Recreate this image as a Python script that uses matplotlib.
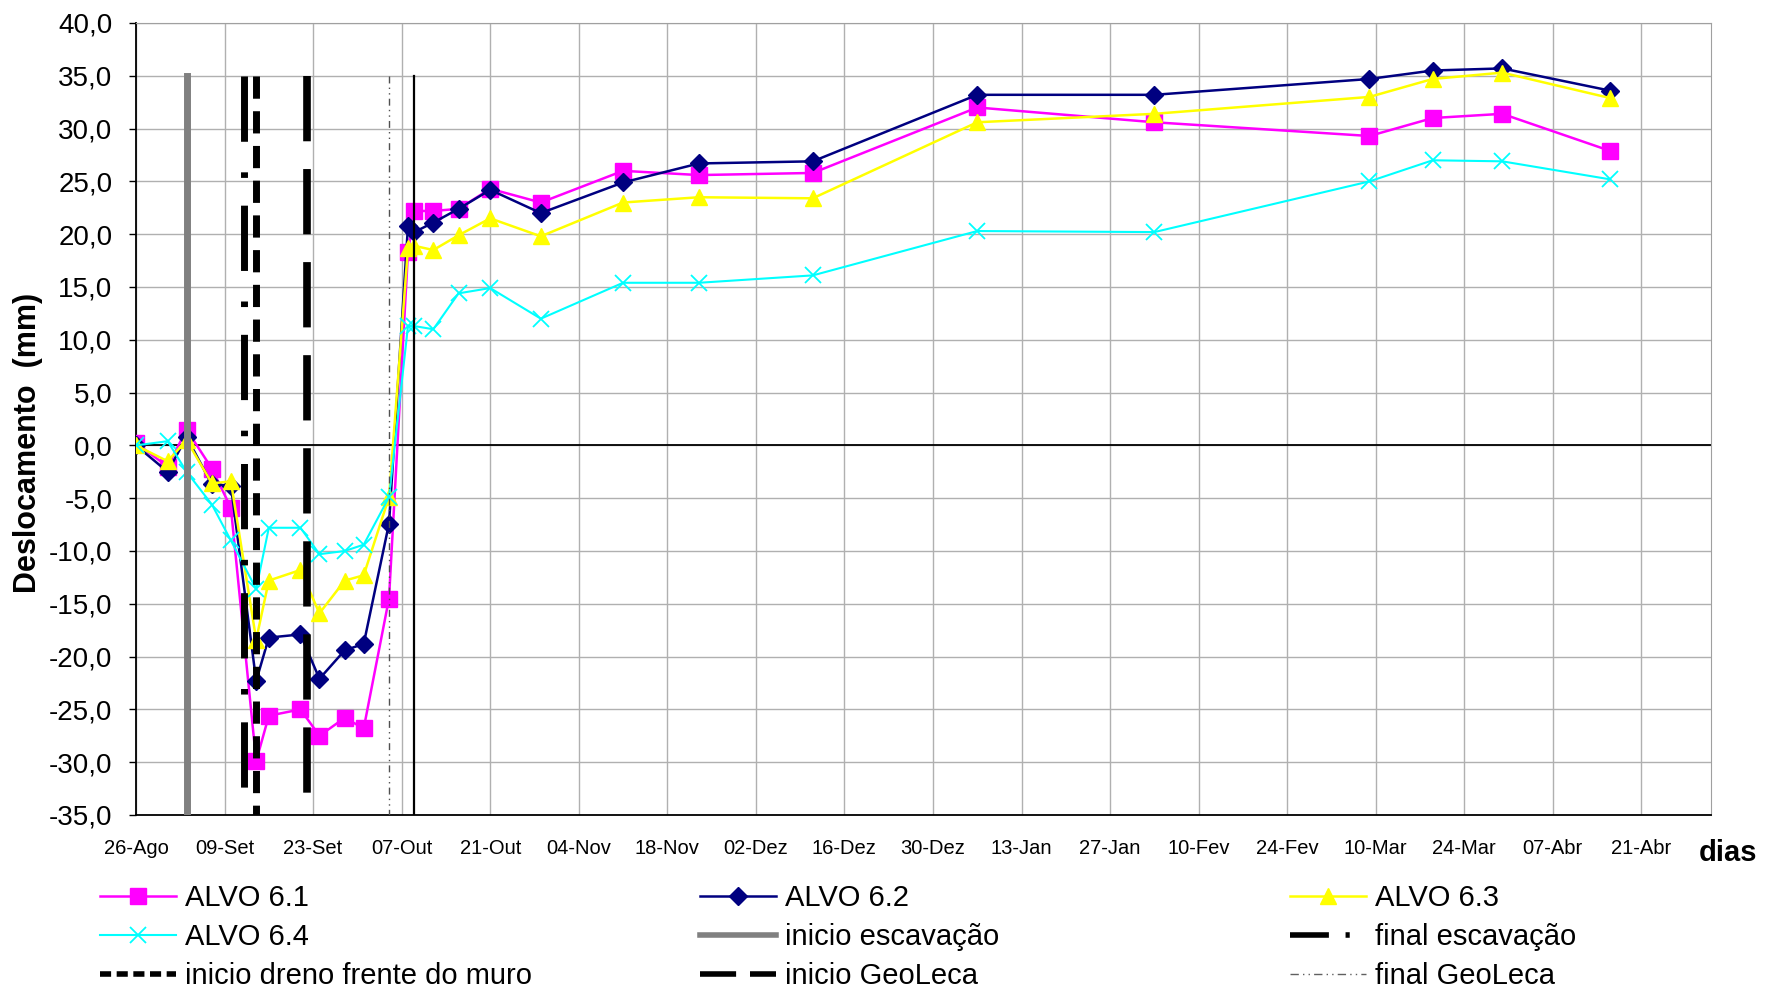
import matplotlib
matplotlib.use('Agg')
import matplotlib.pyplot as plt
from matplotlib.lines import Line2D
from matplotlib.ticker import FuncFormatter, MultipleLocator

# days counted from 26-Ago
days = [0, 5, 8, 12, 15, 19, 21, 26, 29, 33, 36, 40, 43, 44, 47, 51, 56, 64,
        77, 89, 107, 133, 161, 195, 205, 216, 233]

alvo_61 = [0.2, -2.0, 1.5, -2.2, -5.9, -29.9, -25.6, -25.0, -27.5, -25.8, -26.8, -14.5,
           18.3, 22.2, 22.2, 22.4, 24.3, 23.0, 26.0, 25.6, 25.8, 32.0, 30.6, 29.3, 31.0, 31.4, 27.9]
alvo_62 = [0.0, -2.5, 0.8, -3.7, -3.8, -22.3, -18.2, -17.9, -22.1, -19.4, -18.8, -7.4,
           20.8, 20.2, 21.1, 22.4, 24.2, 22.0, 24.9, 26.7, 26.9, 33.2, 33.2, 34.7, 35.5, 35.7, 33.6]
alvo_63 = [0.0, -1.5, 0.5, -3.6, -3.4, -18.4, -12.8, -11.8, -15.9, -12.8, -12.3, -4.9,
           18.7, 18.9, 18.5, 19.9, 21.5, 19.8, 23.0, 23.5, 23.4, 30.6, 31.4, 33.0, 34.7, 35.3, 32.9]
alvo_64 = [0.0, 0.4, -2.5, -5.6, -9.0, -13.6, -7.8, -7.8, -10.3, -10.0, -9.4, -4.9,
           11.3, 11.3, 11.0, 14.4, 14.9, 12.0, 15.4, 15.4, 16.1, 20.3, 20.2, 25.0, 27.0, 26.9, 25.2]

tick_days = list(range(0, 239, 14))
tick_labels = ['26-Ago', '09-Set', '23-Set', '07-Out', '21-Out', '04-Nov', '18-Nov', '02-Dez',
               '16-Dez', '30-Dez', '13-Jan', '27-Jan', '10-Fev', '24-Fev', '10-Mar', '24-Mar',
               '07-Abr', '21-Abr']

# event markers (day)
inicio_escavacao = 8
final_escavacao = 17
inicio_dreno = 19
inicio_geoleca = 27
final_geoleca = 40
linha_solida = 44

plt.rcParams['font.family'] = ['Liberation Sans', 'DejaVu Sans']
plt.rcParams['lines.scale_dashes'] = False

W, H = 1780, 992
fig = plt.figure(figsize=(W / 100, H / 100), dpi=100)
ax = fig.add_axes([136 / W, 1 - 815 / H, (1711 - 136) / W, (815 - 23) / H])

series = [
    ('ALVO 6.1', alvo_61, '#FF00FF', 's', 11),
    ('ALVO 6.2', alvo_62, '#000080', 'D', 9),
    ('ALVO 6.3', alvo_63, '#FFFF00', '^', 11),
    ('ALVO 6.4', alvo_64, '#00FFFF', 'x', 11),
]
handles = {}
for name, vals, col, mk, ms in series:
    mew = 1.3 if mk == 'x' else 1
    lw = 1.5 if mk == 'x' else 1.8
    h, = ax.plot(days, vals, color=col, marker=mk, markersize=ms, lw=lw,
                 markeredgecolor=col, markeredgewidth=mew, zorder=3, label=name)
    handles[name] = h

# vertical event lines, drawn top-down so the dash pattern starts at 35
def event_line(day, **kw):
    ax.plot([day, day], [35, -35], zorder=4, **kw)

event_line(inicio_escavacao, color='#808080', lw=5)
event_line(final_escavacao, color='black', lw=5, dashes=(47, 22, 4, 20))
event_line(inicio_dreno, color='black', lw=5, dashes=(16, 9))
event_line(inicio_geoleca, color='black', lw=5.5, dashes=(47, 20))
event_line(final_geoleca, color='#505050', lw=1, dashes=(5, 3, 1, 3, 1, 3))
event_line(linha_solida, color='black', lw=1.6)

ax.set_xlim(0, 249)
ax.set_ylim(-35, 40)
ax.set_xticks(tick_days)
ax.set_xticklabels(tick_labels, fontsize=14.5)
ax.yaxis.set_major_locator(MultipleLocator(5))
ax.yaxis.set_major_formatter(FuncFormatter(lambda v, p: f'{v:.1f}'.replace('.', ',')))
ax.tick_params(axis='y', labelsize=20, length=5, width=1, pad=12, direction='out')
ax.tick_params(axis='x', length=0, pad=17)

ax.grid(True, color='#b0b0b0', lw=1)
ax.set_axisbelow(True)
ax.axhline(0, color='black', lw=1.3, zorder=2)
for s in ['top', 'right']:
    ax.spines[s].set_color('#a0a0a0')
for s in ['left', 'bottom']:
    ax.spines[s].set_color('black')
    ax.spines[s].set_linewidth(1.3)

ax.set_ylabel('Deslocamento  (mm)', fontsize=22, fontweight='bold')
ax.yaxis.set_label_coords(-0.059, 0.47)
fig.text(1728 / W, 1 - 853 / H, 'dias', fontsize=21, fontweight='bold', ha='center', va='center')

# legend proxies for the event lines
h_esc = Line2D([], [], color='#808080', lw=4)
h_fesc = Line2D([], [], color='black', lw=4, dashes=(28, 12, 3, 20))
h_dreno = Line2D([], [], color='black', lw=4, dashes=(8, 4))
h_geo = Line2D([], [], color='black', lw=4, dashes=(26, 10))
h_fgeo = Line2D([], [], color='#606060', lw=1, dashes=(6, 3, 1, 3, 1, 3))

columns = [
    (100, [handles['ALVO 6.1'], handles['ALVO 6.4'], h_dreno],
     ['ALVO 6.1', 'ALVO 6.4', 'inicio dreno frente do muro']),
    (700, [handles['ALVO 6.2'], h_esc, h_geo],
     ['ALVO 6.2', 'inicio escavação', 'inicio GeoLeca']),
    (1290, [handles['ALVO 6.3'], h_fesc, h_fgeo],
     ['ALVO 6.3', 'final escavação', 'final GeoLeca']),
]
for x0, hs, labs in columns:
    fig.legend(hs, labs, loc='upper left', bbox_to_anchor=(x0 / W, 1 - 884 / H),
               frameon=False, fontsize=21, handlelength=2.6, handletextpad=0.3,
               labelspacing=0.38, borderpad=0, borderaxespad=0, numpoints=1)

fig.savefig('out.png', dpi=100)
